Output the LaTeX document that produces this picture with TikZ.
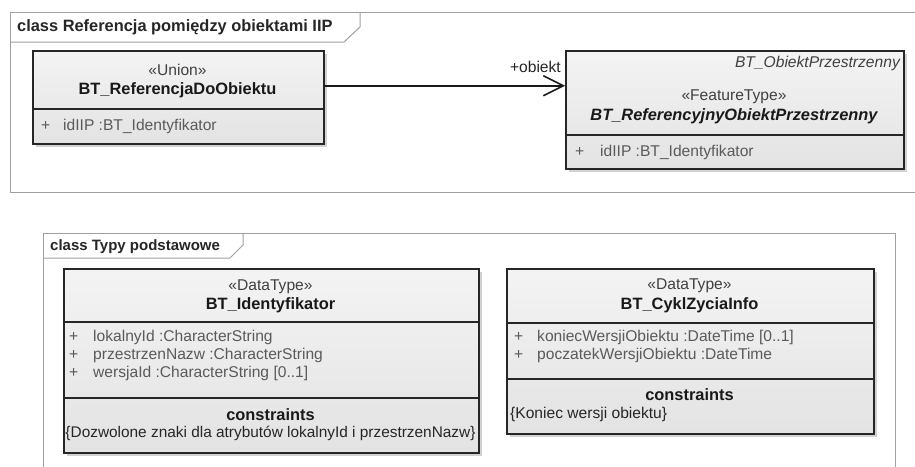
\documentclass[tikz,border=0pt]{standalone}
\usepackage{fontspec}
\setmainfont{Liberation Sans}
\usetikzlibrary{arrows.meta,shadows}
\definecolor{attrgray}{HTML}{5A5A5A}
\definecolor{stereogray}{HTML}{404040}
\definecolor{framegray}{HTML}{A0A0A0}
\tikzset{
  frameline/.style={draw=framegray, line width=1pt},
  umlbox/.style={rectangle, draw=black!85, line width=1.5pt, top color=gray!9, bottom color=gray!22,
    drop shadow={shadow xshift=3pt, shadow yshift=-3pt, opacity=0.35}, inner sep=0pt},
  divider/.style={draw=black!85, line width=1.5pt},
  txt/.style={inner sep=0pt, font=\fontsize{15.6}{18}\selectfont},
  stereo/.style={txt, text=stereogray},
  cname/.style={inner sep=0pt, font=\fontsize{16.4}{18}\selectfont\bfseries, text=black!90},
  attr/.style={txt, anchor=west, text=attrgray},
  ftitle/.style={inner sep=0pt, anchor=west, font=\fontsize{16.4}{18}\selectfont\bfseries, text=black!85},
  assoc/.style={draw=black!90, line width=1.5pt, -{Straight Barb[length=20pt,width=20pt,line width=1.5pt]}}
}
\begin{document}
\begin{tikzpicture}[x=1pt,y=-1pt]
\useasboundingbox (0,0) rectangle (915,466);
\clip (0,0) rectangle (915,466);
\fill[white] (0,0) rectangle (915,466);

% top frame
\draw[frameline] (930,12) -- (10,12) -- (10,192) -- (930,192);
\draw[frameline] (10,42) -- (344,42) -- (360,27) -- (360,12);
\node[ftitle] (t1) at (17,27) {class Referencja pomiędzy obiektami IIP};

% bottom frame
\draw[frameline] (43,480) -- (43,233) -- (895,233) -- (895,480);
\draw[frameline] (43,258) -- (230,258) -- (243,245) -- (243,233);
\node[ftitle, font=\fontsize{15}{18}\selectfont\bfseries] (t2) at (50,247) {class Typy podstawowe};

% box 1
\node[umlbox, minimum width=291pt, minimum height=93pt, anchor=north west] (b1) at (32,50) {};
\draw[divider] (b1.west |- 0,109) -- (b1.east |- 0,109);
\node[stereo] (b1s) at (177.5,70) {«Union»};
\node[cname] (b1n) at (177.5,90) {BT\_ReferencjaDoObiektu};
\node[attr] (b1p) at (41,126) {+};
\node[attr] (b1a) at (63,126) {idIIP :BT\_Identyfikator};

% box 2
\node[umlbox, minimum width=338pt, minimum height=118pt, anchor=north west] (b2) at (565,50) {};
\draw[divider] (b2.west |- 0,135) -- (b2.east |- 0,135);
\node[txt, anchor=east, font=\fontsize{15.6}{18}\selectfont\itshape, text=stereogray] (b2p) at (900,63) {BT\_ObiektPrzestrzenny};
\node[stereo] (b2s) at (734,97) {«FeatureType»};
\node[cname, font=\fontsize{16.4}{18}\selectfont\bfseries\itshape] (b2n) at (734,116) {BT\_ReferencyjnyObiektPrzestrzenny};
\node[attr] (b2pl) at (575,152) {+};
\node[attr] (b2a) at (600,152) {idIIP :BT\_Identyfikator};

% association
\draw[assoc] ([yshift=11.5pt]b1.east) -- ([yshift=24pt]b2.west);
\node[txt, anchor=east, text=black!85] (rl) at (561,67) {+obiekt};

% box 3
\node[umlbox, minimum width=415pt, minimum height=184pt, anchor=north west] (b3) at (63,268) {};
\draw[divider] (b3.west |- 0,322) -- (b3.east |- 0,322);
\draw[divider] (b3.west |- 0,398) -- (b3.east |- 0,398);
\node[stereo] (b3s) at (270.5,287) {«DataType»};
\node[cname] (b3n) at (270.5,305) {BT\_Identyfikator};
\node[attr] (b3p1) at (69,337) {+};
\node[attr] (b3a1) at (93,337) {lokalnyId :CharacterString};
\node[attr] (b3p2) at (69,355) {+};
\node[attr] (b3a2) at (93,355) {przestrzenNazw :CharacterString};
\node[attr] (b3p3) at (69,373) {+};
\node[attr] (b3a3) at (93,373) {wersjaId :CharacterString [0..1]};
\node[cname] (b3c) at (270.5,415) {constraints};
\node[txt, anchor=center, font=\fontsize{15.4}{18}\selectfont, text=black!85] (b3ct) at (270.5,433) {\{Dozwolone znaki dla atrybutów lokalnyId i przestrzenNazw\}};

% box 4
\node[umlbox, minimum width=367pt, minimum height=165pt, anchor=north west] (b4) at (506,268) {};
\draw[divider] (b4.west |- 0,323) -- (b4.east |- 0,323);
\draw[divider] (b4.west |- 0,379) -- (b4.east |- 0,379);
\node[stereo] (b4s) at (689.5,286) {«DataType»};
\node[cname] (b4n) at (689.5,305) {BT\_CyklZyciaInfo};
\node[attr] (b4p1) at (514,337) {+};
\node[attr] (b4a1) at (537,337) {koniecWersjiObiektu :DateTime [0..1]};
\node[attr] (b4p2) at (514,355) {+};
\node[attr] (b4a2) at (537,355) {poczatekWersjiObiektu :DateTime};
\node[cname] (b4c) at (689.5,395) {constraints};
\node[txt, anchor=west, text=black!85] (b4ct) at (510,414) {\{Koniec wersji obiektu\}};
\end{tikzpicture}
\end{document}
